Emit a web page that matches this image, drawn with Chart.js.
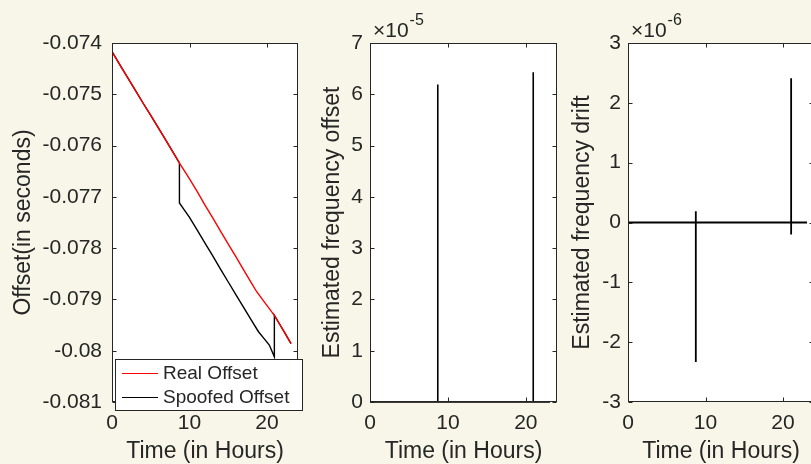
<!DOCTYPE html>
<html>
<head>
<meta charset="utf-8">
<script src="https://cdn.jsdelivr.net/npm/chart.js@4.4.0/dist/chart.umd.min.js"></script>
<style>
body { margin: 0; width: 811px; height: 464px; overflow: hidden; background: #f7f6e8; position: relative; }
canvas { position: absolute; top: 0; }
</style>
</head>
<body>
<canvas id="offsetChart" width="310" height="464" style="left:0px"></canvas>
<canvas id="freqChart" width="250" height="464" style="left:310px"></canvas>
<canvas id="driftChart" width="260" height="464" style="left:560px"></canvas>
<script>
// Offset panel (seconds)
var realHours = [0, 1, 2, 3, 4, 5, 6, 7, 8, 8.7, 9.64, 10, 11, 12, 13, 14, 15, 16, 17, 18, 18.67, 19.5, 20.3, 20.95, 21.5, 22.3, 23.1];
var realOffset = [-0.07417, -0.07442, -0.07467, -0.07492, -0.07517, -0.07541, -0.07566, -0.07591, -0.07616, -0.07634,
    -0.07656, -0.07665, -0.07690, -0.07716, -0.07741, -0.07767, -0.07792, -0.07817, -0.07843, -0.07868, -0.07885,
    -0.07902, -0.07918, -0.07931, -0.07945, -0.07965, -0.07986];
var spoofHours = [0, 1, 2, 3, 4, 5, 6, 7, 8, 8.7, 8.7, 9.3, 10, 11, 12, 13, 14, 15, 16, 17, 18, 18.9, 19.6, 20.3, 20.95, 20.95, 21.5, 22.3, 23.1];
var spoofOffset = [-0.07417, -0.07442, -0.07467, -0.07492, -0.07517, -0.07541, -0.07566, -0.07591, -0.07616, -0.07634,
    -0.07712, -0.07725, -0.07740, -0.07765, -0.07790, -0.07815, -0.07841, -0.07866, -0.07891, -0.07916, -0.07941,
    -0.07963, -0.07976, -0.07989, -0.08012, -0.07931, -0.07945, -0.07965, -0.07986];

// Estimated frequency offset
var freqHours = [0, 8.7, 8.7, 8.7, 20.95, 20.95, 20.95, 23.1];
var freqOffset = [0, 0, 6.19e-5, 0, 0, 6.43e-5, 0, 0];

// Estimated frequency drift
var driftHours = [0, 8.75, 8.75, 8.75, 8.75, 21.05, 21.05, 21.05, 21.05, 23.1];
var freqDrift = [0, 0, 0.19e-6, -2.33e-6, 0, 0, 2.41e-6, -0.2e-6, 0, 0];

var hourStep = 10;
var hourMax = 24;

var axisColor = '#262626';
var fontFamily = "'Liberation Sans', Arial, sans-serif";

function toPoints(xs, ys) {
    return xs.map(function (x, i) { return { x: x, y: ys[i] }; });
}

// MATLAB look: white box, full frame, inward ticks, exponent, legend
var matlabAxes = {
    id: 'matlabAxes',
    beforeDraw: function (chart) {
        var a = chart.chartArea, ctx = chart.ctx;
        ctx.save();
        ctx.fillStyle = '#ffffff';
        ctx.fillRect(a.left, a.top, a.right - a.left, a.bottom - a.top);
        ctx.restore();
    },
    afterDatasetsDraw: function (chart, args, opts) {
        var a = chart.chartArea, ctx = chart.ctx;
        var l = Math.round(a.left) + 0.5, r = Math.round(a.right) - 0.5;
        var t = Math.round(a.top) + 0.5, b = Math.round(a.bottom) - 0.5;
        ctx.save();
        ctx.strokeStyle = axisColor;
        ctx.lineWidth = 1;
        ctx.strokeRect(l, t, r - l, b - t);
        ctx.beginPath();
        chart.scales.x.ticks.forEach(function (tk) {
            var px = Math.round(chart.scales.x.getPixelForValue(tk.value)) + 0.5;
            ctx.moveTo(px, b); ctx.lineTo(px, b - 4);
            ctx.moveTo(px, t); ctx.lineTo(px, t + 4);
        });
        chart.scales.y.ticks.forEach(function (tk) {
            var py = Math.round(chart.scales.y.getPixelForValue(tk.value)) + 0.5;
            ctx.moveTo(l, py); ctx.lineTo(l + 4, py);
            ctx.moveTo(r, py); ctx.lineTo(r - 4, py);
        });
        ctx.stroke();

        if (opts.exponent) {
            ctx.fillStyle = axisColor;
            ctx.textBaseline = 'alphabetic';
            ctx.textAlign = 'left';
            ctx.font = '21px ' + fontFamily;
            var x0 = a.left + 3;
            ctx.fillText('\u00d710', x0, 37);
            var w = ctx.measureText('\u00d710').width;
            ctx.font = '16px ' + fontFamily;
            ctx.fillText(opts.exponent, x0 + w + 1, 25);
        }

        if (opts.legend) {
            var lx = a.left + 3, ly = a.bottom - 43, lw = 187, lh = 51;
            ctx.fillStyle = '#ffffff';
            ctx.fillRect(lx, ly, lw, lh);
            ctx.strokeStyle = axisColor;
            ctx.strokeRect(Math.round(lx) + 0.5, Math.round(ly) + 0.5, lw, lh);
            ctx.font = '19px ' + fontFamily;
            ctx.textBaseline = 'middle';
            chart.data.datasets.forEach(function (ds, i) {
                var yy = Math.round(ly + 14 + i * 24) + 0.5;
                ctx.strokeStyle = ds.borderColor;
                ctx.lineWidth = 1.2;
                ctx.beginPath();
                ctx.moveTo(a.left + 10, yy);
                ctx.lineTo(a.left + 46, yy);
                ctx.stroke();
                ctx.fillStyle = axisColor;
                ctx.fillText(ds.label, a.left + 51, yy);
            });
        }
        ctx.restore();
    }
};

function buildOptions(area, y, extra) {
    return {
        responsive: false,
        animation: false,
        layout: { padding: { top: area.top, right: area.width - area.right, left: 0, bottom: 0 } },
        plugins: {
            legend: { display: false },
            tooltip: { enabled: false },
            matlabAxes: extra
        },
        scales: {
            x: {
                type: 'linear',
                min: 0,
                max: hourMax,
                grid: { display: false, drawTicks: false },
                border: { display: false },
                ticks: {
                    stepSize: hourStep, includeBounds: false, padding: 9, maxRotation: 0,
                    color: axisColor, font: { family: fontFamily, size: 21 }
                },
                title: {
                    display: true, text: 'Time (in Hours)', color: axisColor,
                    font: { family: fontFamily, size: 23, lineHeight: 1 },
                    padding: { top: 0, bottom: 1 }
                },
                afterFit: function (scale) { scale.height = area.height - area.bottom; }
            },
            y: {
                min: y.min,
                max: y.max,
                grid: { display: false, drawTicks: false },
                border: { display: false },
                ticks: {
                    stepSize: y.step, includeBounds: false, padding: y.pad,
                    color: axisColor, font: { family: fontFamily, size: 21 },
                    callback: y.format
                },
                title: {
                    display: true, text: y.title, color: axisColor,
                    font: { family: fontFamily, size: 23, lineHeight: 1 },
                    padding: { top: y.titlePad, bottom: 0 }
                },
                afterFit: function (scale) { scale.width = area.left; }
            }
        }
    };
}

// Offset chart
var ctx = document.getElementById('offsetChart').getContext('2d');
var offsetChart = new Chart(ctx, {
    type: 'line',
    data: {
        datasets: [{
            label: 'Real Offset',
            data: toPoints(realHours, realOffset),
            borderColor: '#ff0000',
            borderWidth: 1.4,
            pointRadius: 0,
            tension: 0
        }, {
            label: 'Spoofed Offset',
            data: toPoints(spoofHours, spoofOffset),
            borderColor: '#000000',
            borderWidth: 1.4,
            pointRadius: 0,
            tension: 0
        }]
    },
    options: buildOptions(
        { width: 310, height: 464, left: 112, right: 298, top: 43, bottom: 402 },
        {
            min: -0.081, max: -0.074, step: 0.001, pad: 10, titlePad: 12.5,
            title: 'Offset(in seconds)',
            format: function (v) { return String(parseFloat(v.toFixed(3))); }
        },
        { legend: true }
    ),
    plugins: [matlabAxes]
});

// Frequency offset chart
var ctx = document.getElementById('freqChart').getContext('2d');
var freqChart = new Chart(ctx, {
    type: 'line',
    data: {
        datasets: [{
            label: 'Estimated frequency offset',
            data: toPoints(freqHours, freqOffset),
            borderColor: '#000000',
            borderWidth: 1.6,
            pointRadius: 0,
            tension: 0,
            clip: false
        }]
    },
    options: buildOptions(
        { width: 250, height: 464, left: 60, right: 247, top: 43, bottom: 402 },
        {
            min: 0, max: 7e-5, step: 1e-5, pad: 7, titlePad: 11.5,
            title: 'Estimated frequency offset',
            format: function (v) { return String(Math.round(v / 1e-5)); }
        },
        { exponent: '-5' }
    ),
    plugins: [matlabAxes]
});

// Frequency drift chart
var ctx = document.getElementById('driftChart').getContext('2d');
var driftChart = new Chart(ctx, {
    type: 'line',
    data: {
        datasets: [{
            label: 'Estimated frequency drift',
            data: toPoints(driftHours, freqDrift),
            borderColor: '#000000',
            borderWidth: 1.8,
            pointRadius: 0,
            tension: 0
        }]
    },
    options: buildOptions(
        { width: 260, height: 464, left: 68, right: 254, top: 43, bottom: 402 },
        {
            min: -3e-6, max: 3e-6, step: 1e-6, pad: 7, titlePad: 11.5,
            title: 'Estimated frequency drift',
            format: function (v) { return String(Math.round(v / 1e-6)); }
        },
        { exponent: '-6' }
    ),
    plugins: [matlabAxes]
});
</script>
</body>
</html>
